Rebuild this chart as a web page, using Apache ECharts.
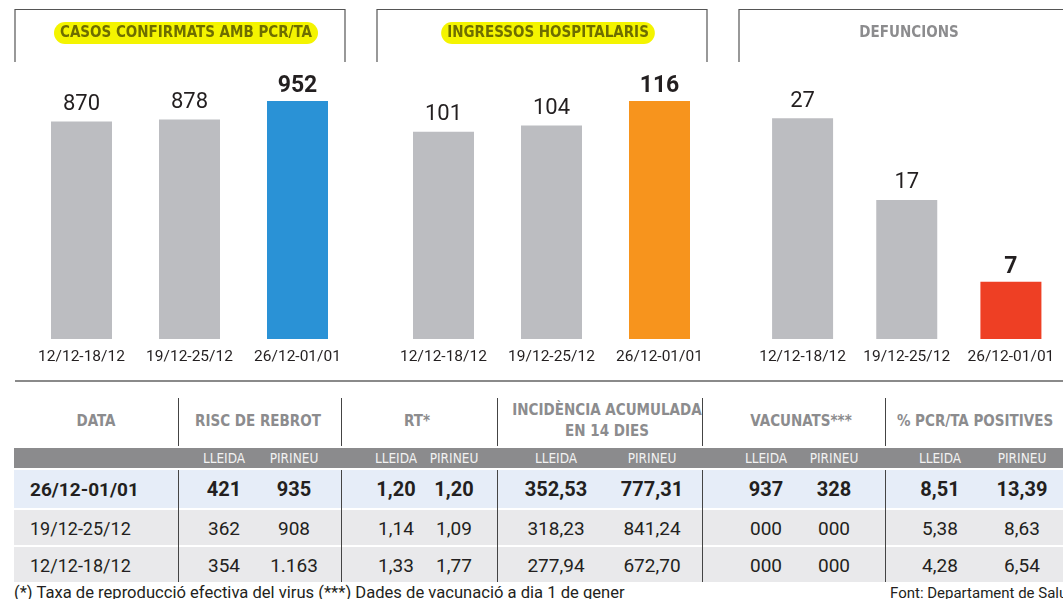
<!DOCTYPE html>
<html>
<head>
<meta charset="utf-8">
<script src="https://cdn.jsdelivr.net/npm/echarts@6/dist/echarts.min.js"></script>
<style>
  html, body { margin: 0; padding: 0; background: #fff; }
  #page { position: relative; width: 1063px; height: 599px; overflow: hidden; }
  #chart { position: absolute; left: 0; top: 0; width: 1063px; height: 392px; }
  .abs { position: absolute; white-space: nowrap; }
  .hd { font-family: "DejaVu Sans Condensed", "DejaVu Sans", sans-serif; font-stretch: condensed; font-weight: bold; color: #8c8c8e; font-size: 15px; line-height: 21px; text-align: center; transform: translateX(-50%); }
  .sub { font-family: "DejaVu Sans Condensed", "DejaVu Sans", sans-serif; font-stretch: condensed; color: #f2f2f2; font-size: 13.5px; line-height: 20px; transform: translateX(-50%); }
  .cell { font-family: Roboto, sans-serif; color: #231f20; font-size: 19px; transform: translate(-50%, -50%); }
  .cell.b { font-weight: bold; font-size: 20px; }
  .date { font-family: Roboto, sans-serif; color: #231f20; font-size: 18px; transform: translateY(-50%); }
  .date.b { font-weight: bold; font-size: 19px; }
  .vl { position: absolute; width: 1px; background: #444; }
  .foot { font-family: Roboto, sans-serif; color: #231f20; font-size: 16.6px; }
</style>
</head>
<body>
<div id="page">
  <div id="chart"></div>
</div>
<script>
// setmanes
var periods = ['12/12-18/12', '19/12-25/12', '26/12-01/01'];
var casos = [870, 878, 952];
var ingressos = [101, 104, 116];
var defuncions = [27, 17, 7];

// taula
var headers = ['DATA', 'RISC DE REBROT', 'RT*', 'INCIDÈNCIA ACUMULADA<br>EN 14 DIES', 'VACUNATS***', '% PCR/TA POSITIVES'];
var subHeaders = ['LLEIDA', 'PIRINEU'];
var tableDates = ['26/12-01/01', '19/12-25/12', '12/12-18/12'];
var riscLleida = ['421', '362', '354'];
var riscPirineu = ['935', '908', '1.163'];
var rtLleida = ['1,20', '1,14', '1,33'];
var rtPirineu = ['1,20', '1,09', '1,77'];
var iaLleida = ['352,53', '318,23', '277,94'];
var iaPirineu = ['777,31', '841,24', '672,70'];
var vacLleida = ['937', '000', '000'];
var vacPirineu = ['328', '000', '000'];
var pcrLleida = ['8,51', '5,38', '4,28'];
var pcrPirineu = ['13,39', '8,63', '6,54'];
var footNote = '(*) Taxa de reproducció efectiva del virus (***) Dades de vacunació a dia 1 de gener';
var source = 'Font: Departament de Salut';

var grey = '#bcbdc1';
var lastColors = ['#2a92d6', '#f7941d', '#ee3f24'];
var condensed = '"DejaVu Sans Condensed", Roboto, sans-serif';

function barData(vals, color) {
  return vals.map(function (v, i) {
    if (i == vals.length - 1) {
      return { value: v, itemStyle: { color: color }, label: { fontWeight: 'bold', fontSize: 23, distance: 3 } };
    }
    return { value: v };
  });
}

var gridLefts = [27.5, 389.5, 750.5];
var maxs = [952, 116, 29.1];
var allVals = [casos, ingressos, defuncions];

var grids = [], xAxes = [], yAxes = [], series = [];
for (var i = 0; i < 3; i++) {
  grids.push({ left: gridLefts[i], top: 101, width: 324, height: 238 });
  xAxes.push({
    type: 'category', gridIndex: i, data: periods,
    axisLine: { show: false }, axisTick: { show: false },
    axisLabel: { interval: 0, fontSize: 15.5, color: '#231f20', fontFamily: 'Roboto', margin: 10 }
  });
  yAxes.push({ type: 'value', gridIndex: i, min: 0, max: maxs[i], show: false });
  series.push({
    type: 'bar', xAxisIndex: i, yAxisIndex: i, barWidth: 61,
    itemStyle: { color: grey },
    label: { show: true, position: 'top', distance: 6, fontSize: 22, color: '#231f20', fontFamily: 'Roboto' },
    data: barData(allVals[i], lastColors[i])
  });
}

var pill = {
  backgroundColor: '#f4f400', borderRadius: 11, padding: [1, 6],
  textStyle: { fontFamily: condensed, fontWeight: 'bold', fontSize: 15, color: '#6e6e00', lineHeight: 20 }
};

var option = {
  animation: false,
  title: [
    Object.assign({ text: 'CASOS CONFIRMATS AMB PCR/TA', left: 180, top: 22, textAlign: 'center' }, pill),
    Object.assign({ text: 'INGRESSOS HOSPITALARIS', left: 542, top: 22, textAlign: 'center' }, pill),
    { text: 'DEFUNCIONS', left: 903, top: 22, textAlign: 'center', padding: [1, 6],
      textStyle: { fontFamily: condensed, fontWeight: 'bold', fontSize: 15, color: '#8c8c8e', lineHeight: 20 } }
  ],
  grid: grids,
  xAxis: xAxes,
  yAxis: yAxes,
  series: series,
  graphic: [
    { type: 'polyline', shape: { points: [[15, 62], [15, 9.5], [345, 9.5], [345, 62]] }, style: { stroke: '#555', lineWidth: 1.2, fill: null } },
    { type: 'polyline', shape: { points: [[377, 62], [377, 9.5], [707, 9.5], [707, 62]] }, style: { stroke: '#555', lineWidth: 1.2, fill: null } },
    { type: 'polyline', shape: { points: [[739, 62], [739, 9.5], [1070, 9.5]] }, style: { stroke: '#555', lineWidth: 1.2, fill: null } },
    { type: 'line', shape: { x1: 15, y1: 381, x2: 1063, y2: 381 }, style: { stroke: '#8a8a8a', lineWidth: 2 } }
  ]
};

var myChart = echarts.init(document.getElementById('chart'));
myChart.setOption(option);

// taula (html)
var page = document.getElementById('page');
function add(cls, html, css) {
  var d = document.createElement('div');
  d.className = cls;
  d.innerHTML = html;
  for (var k in css) d.style[k] = css[k];
  page.appendChild(d);
  return d;
}
function rect(x, y, w, h, color) {
  add('abs', '', { left: x + 'px', top: y + 'px', width: w + 'px', height: h + 'px', background: color });
}

var dividers = [178, 341, 497, 702, 885];
var headCenters = [96, 258, 417, 607, 801, 975];
var colCenters = [224, 294, 396, 454, 556, 652, 766, 834, 940, 1022];
var rowTops = [470, 510, 547];
var rowH = [38, 35, 35];
var rowBg = ['#e6edf8', '#e9e9eb', '#e9e9eb'];

// capçalera
for (var h = 0; h < headers.length; h++) {
  var two = headers[h].indexOf('<br>') >= 0;
  add('abs hd', headers[h], { left: headCenters[h] + 'px', top: (two ? 400 : 411) + 'px' });
}
dividers.forEach(function (x) {
  add('vl', '', { left: x + 'px', top: '398px', height: '48px' });
});

// barra gris
rect(14, 448, 1049, 20, '#8b8b8d');
for (var c = 0; c < colCenters.length; c++) {
  add('abs sub', subHeaders[c % 2], { left: colCenters[c] + 'px', top: '448px' });
}

var cols = [riscLleida, riscPirineu, rtLleida, rtPirineu, iaLleida, iaPirineu, vacLleida, vacPirineu, pcrLleida, pcrPirineu];
for (var r = 0; r < tableDates.length; r++) {
  rect(14, rowTops[r], 1049, rowH[r], rowBg[r]);
  var cy = rowTops[r] + rowH[r] / 2;
  var b = r == 0 ? ' b' : '';
  add('abs date' + b, tableDates[r], { left: '30px', top: cy + 'px' });
  for (var c = 0; c < cols.length; c++) {
    add('abs cell' + b, cols[c][r], { left: colCenters[c] + 'px', top: cy + 'px' });
  }
}
dividers.forEach(function (x) {
  add('vl', '', { left: x + 'px', top: '470px', height: '112px' });
});

add('abs foot', footNote, { left: '14px', top: '583px' });
add('abs foot', source, { left: '890px', top: '584px', fontSize: '15px' });
</script>
</body>
</html>
